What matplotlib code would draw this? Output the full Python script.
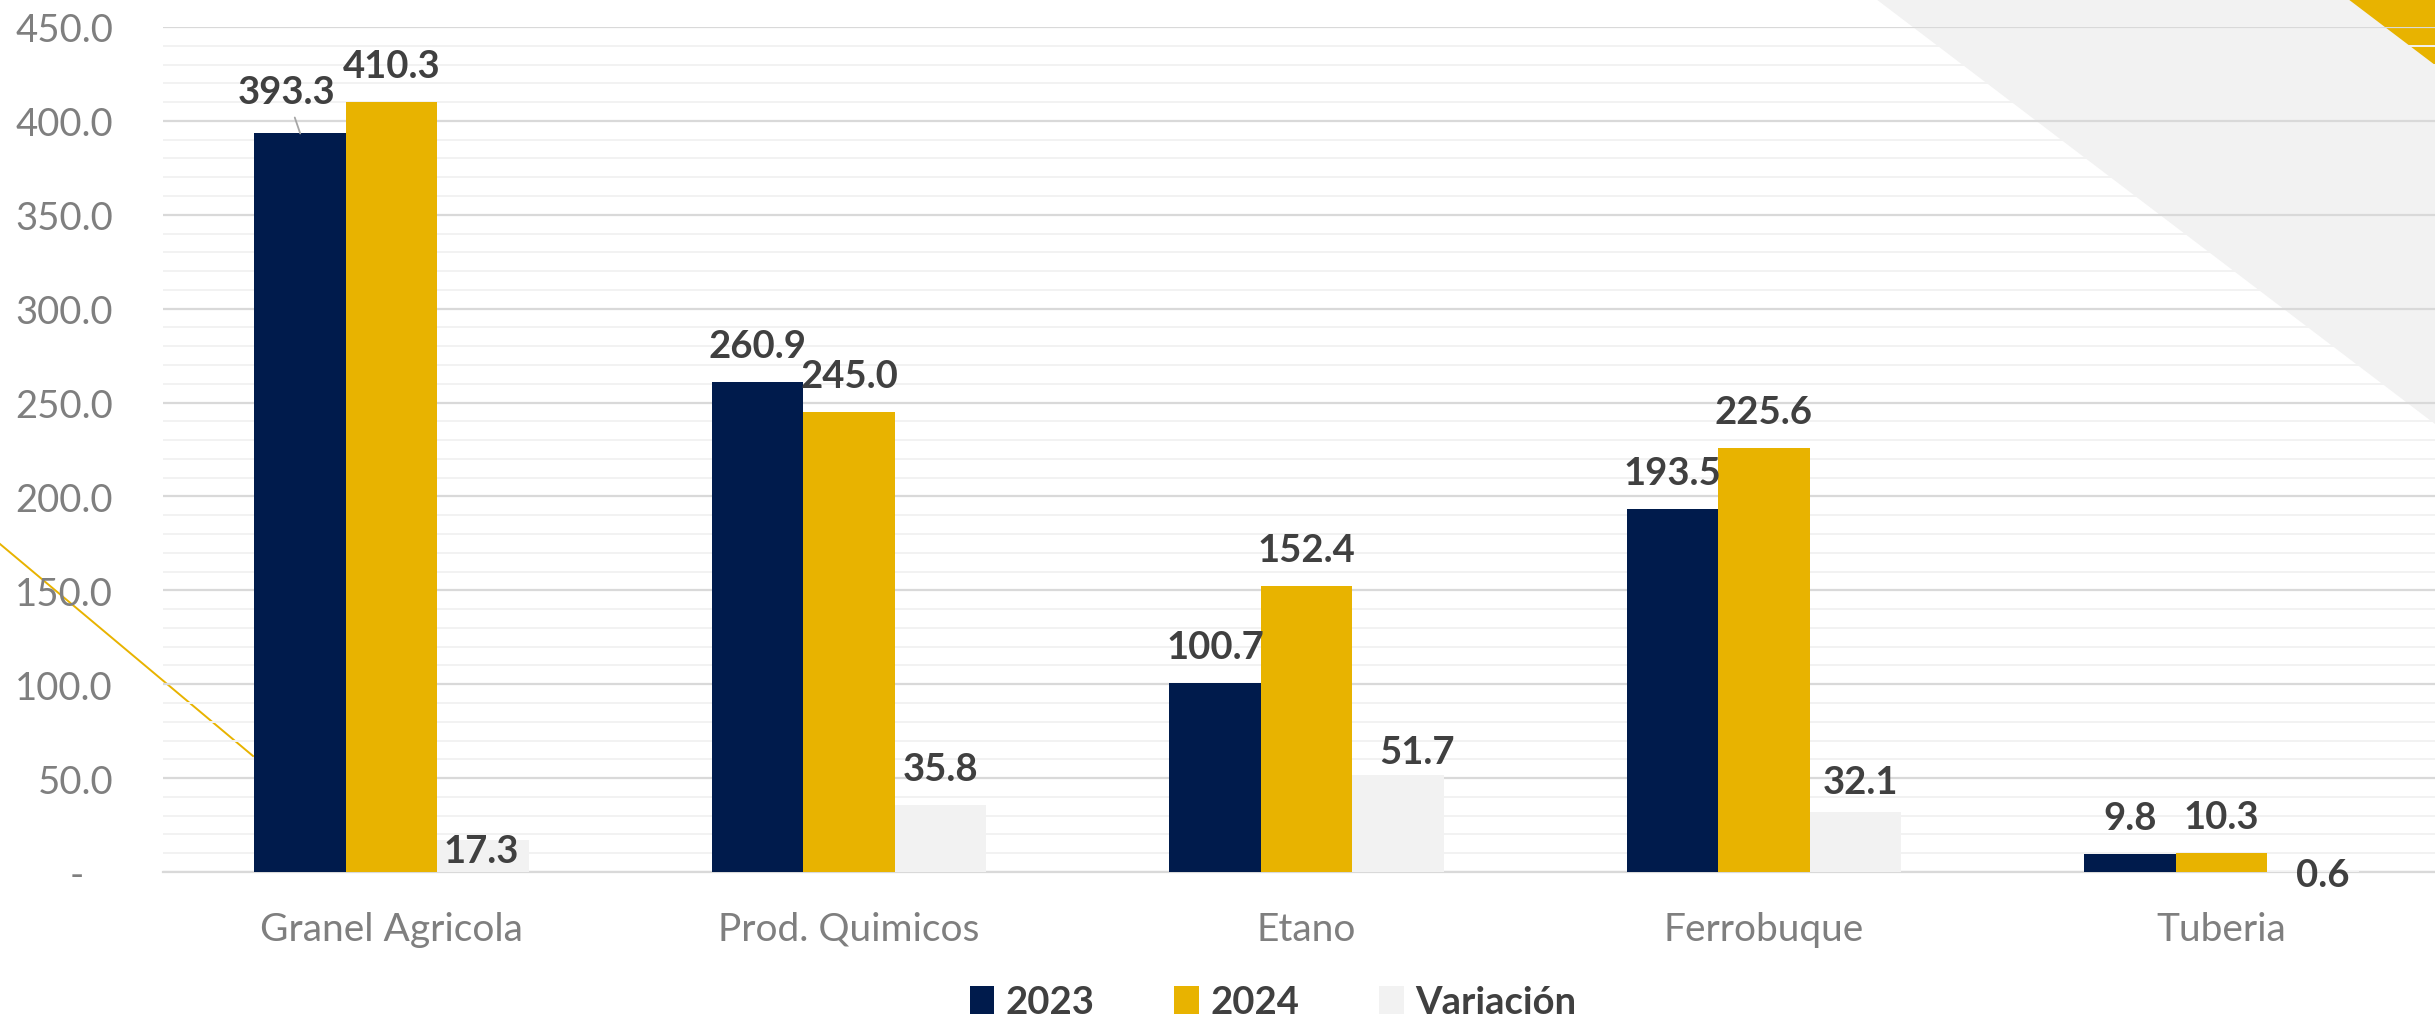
import matplotlib
matplotlib.use("Agg")
import matplotlib.pyplot as plt
import numpy as np
from matplotlib.patches import Polygon, Patch
from matplotlib.lines import Line2D
from matplotlib.ticker import MultipleLocator, FuncFormatter

plt.rcParams['font.family'] = ['Lato', 'DejaVu Sans']

categories = ["Granel Agricola", "Prod. Quimicos", "Etano", "Ferrobuque", "Tuberia"]
series_names = ["2023", "2024", "Variación"]
v2023 = [393.3, 260.9, 100.7, 193.5, 9.8]
v2024 = [410.3, 245.0, 152.4, 225.6, 10.3]
variacion = [17.3, 35.8, 51.7, 32.1, 0.6]

colors = ["#001b4c", "#e8b300", "#f2f2f2"]
txt_dark = "#404040"
txt_gray = "#7f7f7f"

W, H = 2435, 1020
fig = plt.figure(figsize=(W / 100, H / 100), dpi=100)

# background decorations (figure pixel coords -> fraction)
def fx(px):
    return px / W

def fy(py):
    return 1 - py / H

gray_tri = Polygon([(fx(1876), fy(0)), (fx(2435), fy(0)), (fx(2435), fy(425))],
                   closed=True, transform=fig.transFigure, facecolor="#f2f2f2",
                   edgecolor="none", zorder=0)
gold_tri = Polygon([(fx(2348), fy(0)), (fx(2435), fy(0)), (fx(2435), fy(66))],
                   closed=True, transform=fig.transFigure, facecolor="#e8b300",
                   edgecolor="none", zorder=0)
fig.patches.extend([gray_tri, gold_tri])
fig.lines.append(Line2D([fx(0), fx(253)], [fy(545), fy(757)], transform=fig.transFigure,
                        color="#e8b300", lw=1.4, zorder=0))

ax = fig.add_axes([163 / W, 1 - 873 / H, 2287 / W, 845 / H])
ax.set_zorder(1)
ax.set_facecolor("none")

x = np.arange(len(categories))
bw = 0.2
all_vals = [v2023, v2024, variacion]
for k in range(3):
    ax.bar(x + (k - 1) * bw, all_vals[k], width=bw, color=colors[k], zorder=3)

ax.set_xlim(-0.5, 4.5)
ax.set_ylim(0, 450)
ax.yaxis.set_major_locator(MultipleLocator(50))
ax.yaxis.set_minor_locator(MultipleLocator(10))
ax.grid(which="major", axis="y", color="#d9d9d9", lw=1.6, zorder=1)
ax.grid(which="minor", axis="y", color="#f2f2f2", lw=1.4, zorder=1)
ax.yaxis.set_major_formatter(FuncFormatter(lambda v, p: "-   " if v == 0 else "%.1f" % v))
for s in ["left", "right", "top"]:
    ax.spines[s].set_visible(False)
ax.spines["bottom"].set_color("#d9d9d9")
ax.spines["bottom"].set_linewidth(1.6)
ax.tick_params(axis="both", which="both", length=0)
ax.tick_params(axis="y", labelsize=27.5, labelcolor=txt_gray, pad=36)
ax.tick_params(axis="x", labelsize=28, labelcolor=txt_gray, pad=28)
ax.set_xticks(x)
ax.set_xticklabels(categories)

# data labels: default offset 36 px above bar top; a few were moved in the original
px2pt = 72 / 100
moved = {(0, 0): (-14, 41), (2, 0): (-2, -11), (2, 2): (19, 23), (2, 3): (5, 30), (2, 4): (10, -4)}
for k in range(3):
    for i, v in enumerate(all_vals[k]):
        dx, dy = moved.get((k, i), (0, 36))
        kw = {}
        if (k, i) == (0, 0):
            kw["arrowprops"] = dict(arrowstyle="-", color="#a6a6a6", lw=1.3, shrinkA=4, shrinkB=0)
        ax.annotate("%.1f" % v, (x[i] + (k - 1) * bw, v), xytext=(dx * px2pt, dy * px2pt),
                    textcoords="offset points", ha="center", va="center", fontsize=27.5,
                    fontweight="bold", color=txt_dark, zorder=5, **kw)

handles = [Patch(facecolor=c, edgecolor="none") for c in colors]
leg = fig.legend(handles, series_names, loc="center", bbox_to_anchor=(fx(1273), fy(1003)),
                 ncol=3, frameon=False, prop=dict(family="Lato", weight="bold", size=27.5),
                 handlelength=0.64, handleheight=0.75, handletextpad=0.3, columnspacing=2.1,
                 borderaxespad=0, borderpad=0)
for t in leg.get_texts():
    t.set_color(txt_dark)

fig.savefig("out.png", dpi=100)
